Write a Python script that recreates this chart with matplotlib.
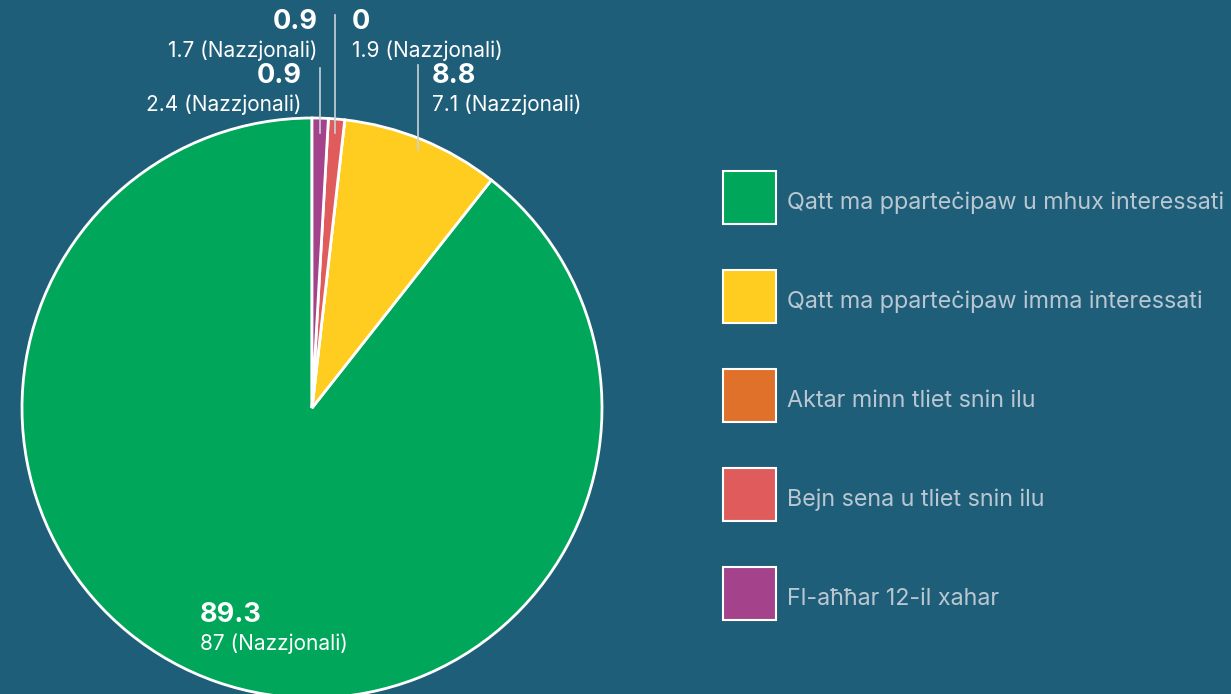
import matplotlib
matplotlib.use("Agg")
import matplotlib.pyplot as plt
from matplotlib.patches import Rectangle

BG = "#1f5e78"
FONT = ["Inter", "DejaVu Sans"]

categories = [
    "Qatt ma pparteċipaw u mhux interessati",
    "Qatt ma pparteċipaw imma interessati",
    "Aktar minn tliet snin ilu",
    "Bejn sena u tliet snin ilu",
    "Fl-aħħar 12-il xahar",
]
values = [89.3, 8.8, 0.0, 0.9, 0.9]
national = ["87", "7.1", "1.9", "1.7", "2.4"]
colors = ["#00a65a", "#ffcd1f", "#e0712a", "#e05c5c", "#a5428c"]

W, H = 1231, 694
fig = plt.figure(figsize=(W / 100, H / 100), dpi=100, facecolor=BG)
ax = fig.add_axes([0, 0, 1, 1])
ax.set_facecolor(BG)

cx, cy, r = 312, H - 408, 290
ax.pie(values, colors=colors, startangle=90, counterclock=True,
       center=(cx, cy), radius=r, frame=True,
       wedgeprops=dict(edgecolor="white", linewidth=2))
ax.set_xlim(0, W)
ax.set_ylim(0, H)
ax.set_aspect("equal")
ax.axis("off")

# value labels (pixel positions, y from top)
label_pos = {
    0: (200, 615, "left", None),
    1: (432, 76, "left", (418, 65, 150)),
    2: (352, 22, "left", None),
    3: (318, 22, "right", (335, 15, 133)),
    4: (302, 76, "right", (320, 68, 133)),
}
for i, (x, y, ha, line) in label_pos.items():
    vtxt = f"{values[i]:g}"
    ax.text(x, H - y, vtxt, color="white", fontsize=19.5, fontweight="bold",
            ha=ha, va="center", family=FONT)
    ax.text(x, H - y - 29, f"{national[i]} (Nazzjonali)", color="white",
            fontsize=15, ha=ha, va="center", family=FONT)
    if line is not None:
        lx, y0, y1 = line
        ax.plot([lx, lx], [H - y0, H - y1], color="#c9d3da", lw=1.2)

# legend
for i, (name, c) in enumerate(zip(categories, colors)):
    yc = H - (198 + i * 99)
    ax.add_patch(Rectangle((723, yc - 26), 53, 53, facecolor=c,
                           edgecolor="white", lw=1.5))
    ax.text(787, yc - 5, name, color="#b9c7d2", fontsize=16.8, ha="left",
            va="center", family=FONT)

fig.savefig("out.png", dpi=100, facecolor=BG)
